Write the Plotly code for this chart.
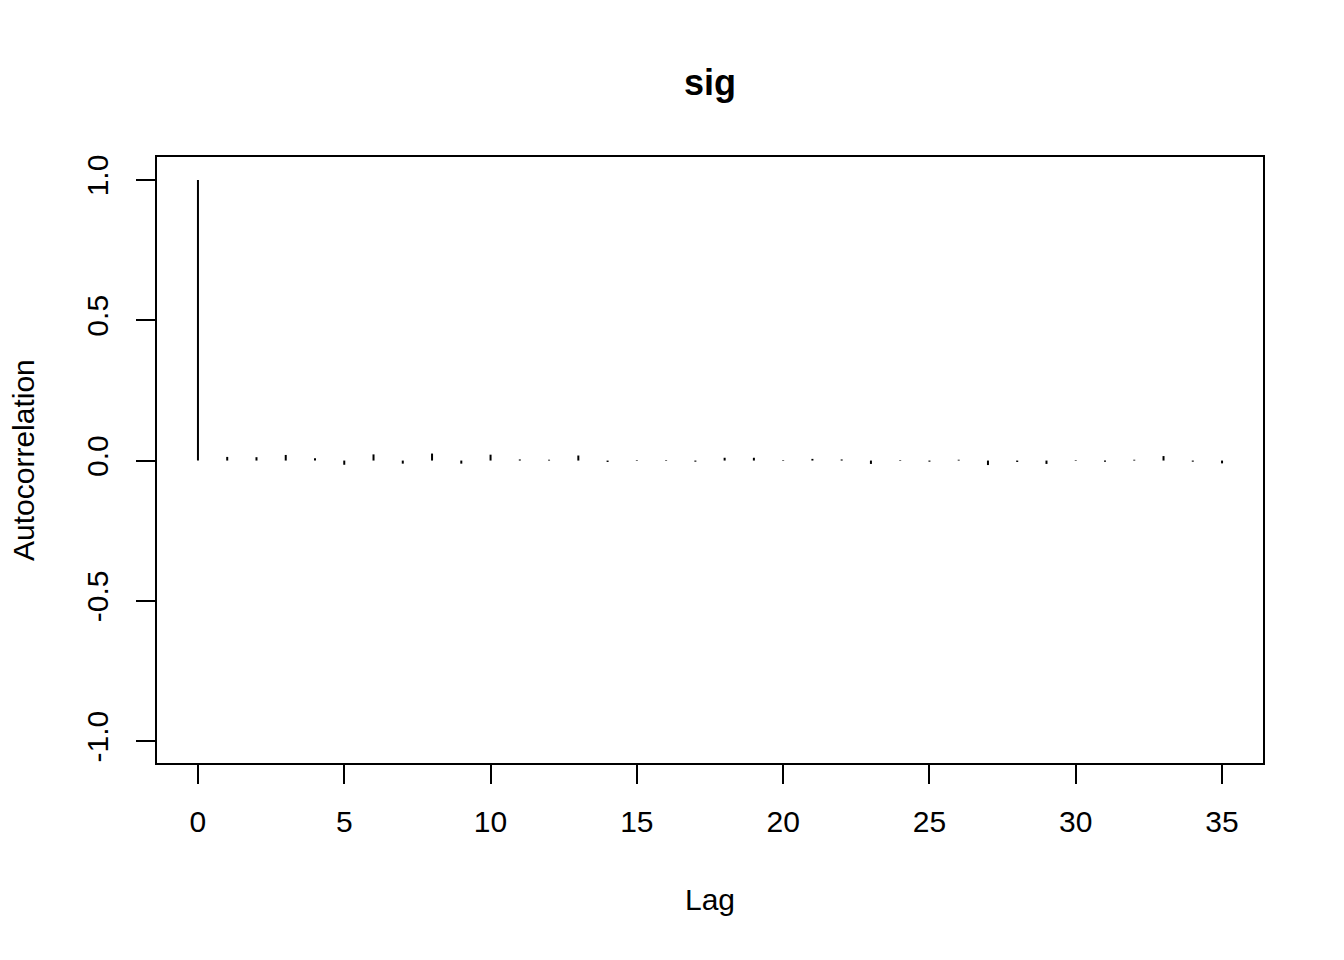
import plotly.graph_objects as go

lags = list(range(0, 36))
acf = [1.0, 0.013, 0.012, 0.020, 0.008, -0.015, 0.022, -0.011, 0.025, -0.011,
       0.021, 0.004, 0.003, 0.018, -0.005, 0.002, 0.002, -0.004, 0.010, 0.010,
       0.002, 0.006, 0.004, -0.012, 0.002, -0.004, 0.003, -0.016, -0.005, -0.012,
       0.002, -0.004, 0.003, 0.016, -0.004, -0.010]
xticks = [0, 5, 10, 15, 20, 25, 30, 35]
yticks = [-1.0, -0.5, 0.0, 0.5, 1.0]
title = "sig"
xlabel = "Lag"
ylabel = "Autocorrelation"

xs, ys = [], []
for l, v in zip(lags, acf):
    xs += [l, l, None]
    ys += [0, v, None]

FONT = "Liberation Sans, Arial, sans-serif"
# page body has an 8px offset; compensate in the margins
L, T = 149, 149
PW, PH = 1106, 606
fig = go.Figure()
fig.add_trace(go.Scatter(x=xs, y=ys, mode="lines",
                         line=dict(color="black", width=2),
                         hoverinfo="skip", showlegend=False))

fig.update_layout(
    width=1344, height=960,
    margin=dict(l=L, r=1344 - L - PW, t=T, b=960 - T - PH, autoexpand=False),
    paper_bgcolor="white", plot_bgcolor="white",
    font=dict(family=FONT, size=30, color="black"),
    title=dict(text="<b>" + title + "</b>", x=(702) / 1344, xanchor="center",
               y=1 - 74 / 960, yanchor="middle", yref="container",
               font=dict(size=36, family=FONT, color="black")),
    showlegend=False,
)
fig.update_xaxes(range=[-1.40, 36.40], tickvals=xticks,
                 ticktext=[str(t) for t in xticks],
                 ticks="outside", ticklen=19, tickwidth=1.5, tickcolor="black",
                 showline=True, linecolor="black", linewidth=1.5, mirror=True,
                 showgrid=False, zeroline=False, ticklabelstandoff=12,
                 tickfont=dict(size=30, family=FONT))
fig.update_yaxes(range=[-1.078, 1.082], tickvals=yticks,
                 ticktext=["-1.0", "-0.5", "0.0", "0.5", "1.0"],
                 tickangle=-90,
                 ticks="outside", ticklen=19, tickwidth=1.5, tickcolor="black",
                 showline=True, linecolor="black", linewidth=1.5, mirror=True,
                 showgrid=False, zeroline=False, ticklabelstandoff=16,
                 tickfont=dict(size=30, family=FONT))

fig.add_annotation(text=xlabel, xref="paper", yref="paper",
                   x=0.5, y=-(900 - 763) / PH, xanchor="center", yanchor="middle",
                   showarrow=False, font=dict(size=30, family=FONT))
fig.add_annotation(text=ylabel, xref="paper", yref="paper",
                   x=-(157 - 23) / PW, y=0.5, xanchor="center", yanchor="middle",
                   textangle=-90, showarrow=False, font=dict(size=30, family=FONT))

fig.write_html("out.html")
